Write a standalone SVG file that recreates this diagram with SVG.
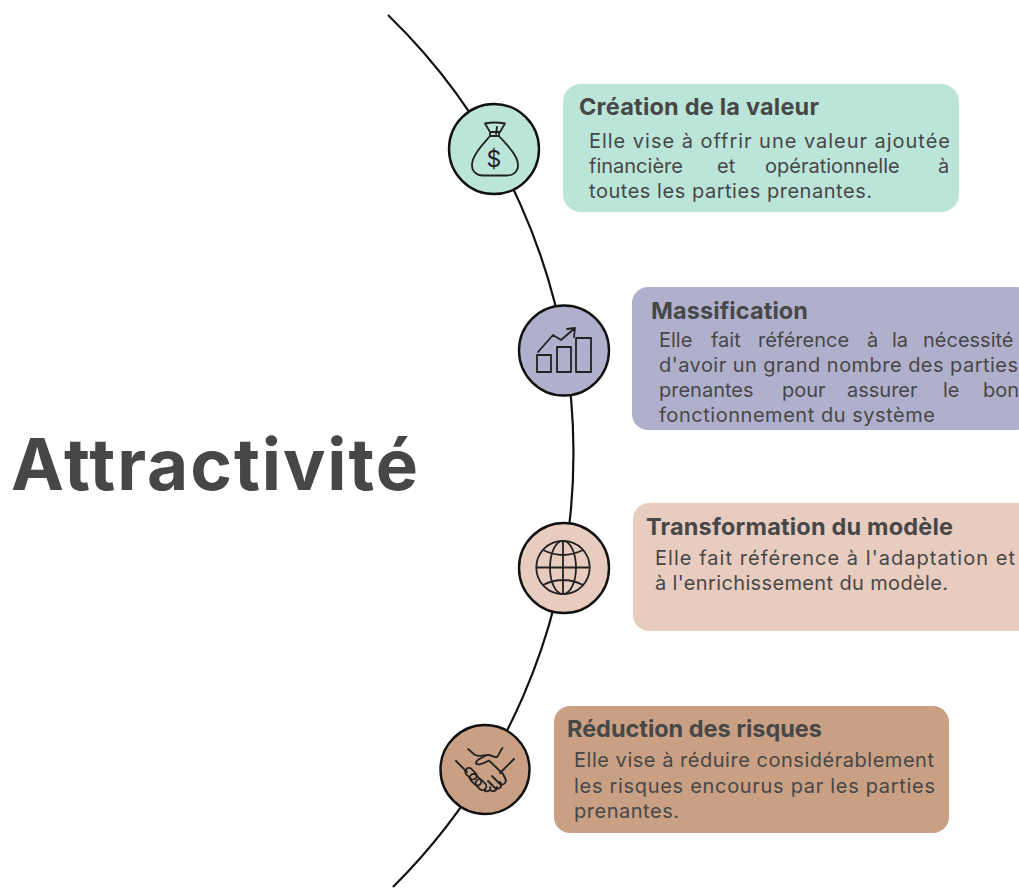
<svg xmlns="http://www.w3.org/2000/svg" width="1019" height="888" viewBox="0 0 1019 888">
<style>
.f{font-family:"Inter","Liberation Sans",sans-serif;fill:#474747}
.h{font-size:23.500px;font-weight:700}
.b{font-size:20px}
.ln{fill:none;stroke:#111;stroke-width:2.200}
.ring{stroke:#111;stroke-width:2.400}
.ic{fill:none;stroke:#222;stroke-width:1.800;stroke-linecap:round;stroke-linejoin:round}
</style>
<rect width="1019" height="888" fill="#fff"/>
<g id="connectors"><path class="ln" d="M388 15A611 611 0 0 1 393 887"/></g>
<text id="title" class="f" x="11" y="490" font-size="71" font-weight="700" textLength="407" lengthAdjust="spacing">Attractivité</text>
<g id="node1">
<rect x="563" y="84" width="396" height="128" rx="18" fill="#bce5da"/>
<circle class="ring" cx="494" cy="149" r="45" fill="#bce5da"/>
<path class="ic" d="M485 123.500Q495 121.500 505 123.500L500 132H490ZM490 132V136H499V132M497 127L496 134M490 136C484 143 472 155 472 165C472 172 477 175.500 483 175.500H507C513 175.500 518 172 518 165C518 155 505 143 499 136"/>
<text x="494" y="167" font-size="23" text-anchor="middle" fill="#222" font-family="Inter,'Liberation Sans',sans-serif">$</text>
<text class="f h" x="579" y="115" textLength="240">Création de la valeur</text>
<text class="f b" x="589" y="148" textLength="361">Elle vise à offrir une valeur ajoutée</text>
<text class="f b" y="173"><tspan x="589">financière</tspan> <tspan x="717">et</tspan> <tspan x="765">opérationnelle</tspan> <tspan x="938">à</tspan></text>
<text class="f b" x="589" y="198" textLength="283">toutes les parties prenantes.</text>
</g>
<g id="node2">
<rect x="632" y="287" width="400" height="143" rx="16" fill="#b1b0cc"/>
<circle class="ring" cx="564" cy="350.500" r="45" fill="#b1b0cc"/>
<path class="ic" d="M537 355H551V372H537ZM557 347H571V372H557ZM576 338H591V372H576ZM538 352L553 335L561 340L575 328M567 329L575 328L574 337"/>
<text class="f h" x="651" y="319" textLength="157">Massification</text>
<text class="f b" y="347"><tspan x="659">Elle</tspan> <tspan x="711">fait</tspan> <tspan x="758">référence</tspan> <tspan x="867">à</tspan> <tspan x="892">la</tspan> <tspan x="923">nécessité</tspan></text>
<text class="f b" x="659" y="372" textLength="359">d'avoir un grand nombre des parties</text>
<text class="f b" y="397"><tspan x="659">prenantes</tspan> <tspan x="782">pour</tspan> <tspan x="847">assurer</tspan> <tspan x="943">le</tspan> <tspan x="983">bon</tspan></text>
<text class="f b" x="659" y="422" textLength="276">fonctionnement du système</text>
</g>
<g id="node3">
<rect x="633" y="503" width="400" height="128" rx="16" fill="#e8ccc0"/>
<circle class="ring" cx="564" cy="568" r="45" fill="#e8ccc0"/>
<g class="ic"><circle cx="563" cy="567.500" r="26.700"/><ellipse cx="563" cy="567.500" rx="13" ry="26.700"/><path d="M563 541V594M536.500 567.500H589.500M543 550Q563 560 583 550M543 585Q563 575 583 585"/></g>
<text class="f h" x="646" y="535" textLength="307">Transformation du modèle</text>
<text class="f b" x="655" y="565" textLength="360">Elle fait référence à l'adaptation et</text>
<text class="f b" x="655" y="590" textLength="293">à l'enrichissement du modèle.</text>
</g>
<g id="node4">
<rect x="554" y="706" width="395" height="127" rx="16" fill="#c9a084"/>
<circle class="ring" cx="485" cy="769.500" r="44.500" fill="#c9a084"/>
<g class="ic">
<path d="M468 749L475 755C480 757 484 755 488 755C492 755 495 758 497 757C499 755 500 751 502.500 748M488 755C482 757 475 761 476 763.500C477 765.500 483 764 489 760.500L503 774L505 778M514 759L500 773M456 761L467 772"/>
<rect x="464.500" y="770" width="13" height="7.500" rx="3.700" transform="rotate(45 471 773.700)"/>
<rect x="469" y="776" width="13" height="7.500" rx="3.700" transform="rotate(45 475.500 779.700)"/>
<rect x="475" y="781" width="12" height="7.500" rx="3.700" transform="rotate(45 481 784.700)"/>
<path d="M484 790C487 793 492 790 490 787M490 790C494 793 498 789 497 787M496 788C500 790 503 786 500 782M500 784C505 786 507 781 505 778M492 776L501 785M488 781L495 788"/>
</g>
<text class="f h" x="567" y="737" textLength="255">Réduction des risques</text>
<text class="f b" x="574" y="767" textLength="360">Elle vise à réduire considérablement</text>
<text class="f b" x="574" y="793" textLength="361">les risques encourus par les parties</text>
<text class="f b" x="574" y="818" textLength="105">prenantes.</text>
</g>
</svg>
